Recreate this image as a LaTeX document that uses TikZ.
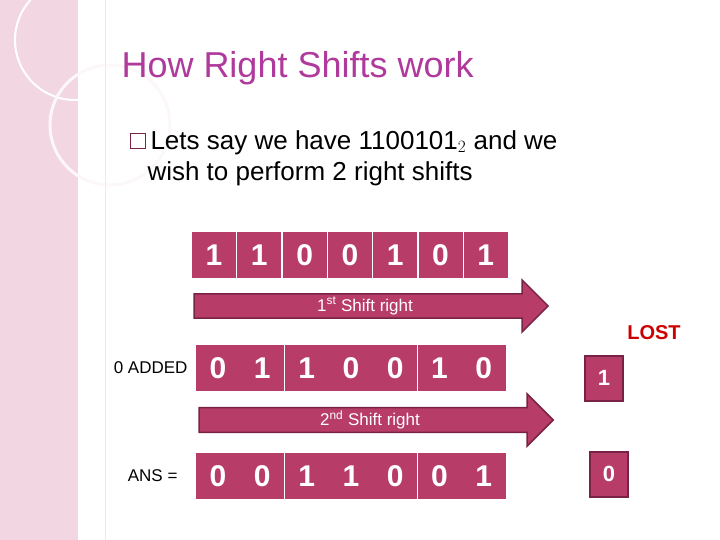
\documentclass[tikz,border=0pt]{standalone}
\usepackage{fontspec}
\setmainfont{Liberation Sans}
\usetikzlibrary{shapes.arrows}
\definecolor{bitc}{RGB}{184,60,104}
\definecolor{bitd}{RGB}{120,35,70}
\definecolor{ttl}{RGB}{176,58,156}
\definecolor{stripe}{RGB}{242,214,226}
\definecolor{lostred}{RGB}{204,0,0}
\tikzset{
 bit/.style={fill=bitc,minimum width=44pt,minimum height=46pt,inner sep=0pt,text=white,font=\fontsize{30}{30}\selectfont\bfseries},
 lostbit/.style={fill=bitc,draw=bitd,line width=2pt,minimum width=38pt,minimum height=45pt,inner sep=0pt,text=white,font=\fontsize{22}{22}\selectfont\bfseries},
 shiftarrow/.style={single arrow,fill=bitc,draw=bitd,line width=1.5pt,minimum height=354pt,minimum width=52pt,single arrow head extend=13pt,single arrow tip angle=90,inner sep=2pt,text=white,font=\fontsize{17}{17}\selectfont},
 side/.style={font=\fontsize{17}{17}\selectfont,anchor=east}
}
\begin{document}
\begin{tikzpicture}[x=1pt,y=-1pt]
\useasboundingbox (0,0) rectangle (720,540);
\fill[stripe] (0,0) rectangle (78,540);
\draw[white,line width=2pt] (75,40) circle (60);
\draw[white!80!stripe,line width=3pt] (110,125) circle (60);
\draw[stripe!70!black!20,line width=0.6pt] (105,0) -- (105,540);
\node[anchor=west,text=ttl,font=\fontsize{36}{36}\selectfont] (title) at (118,68) {How Right Shifts work};
\node[draw=bitd,line width=0.8pt,minimum size=15pt,inner sep=0pt] (bul) at (138,141) {};
\node[anchor=west,font=\fontsize{26}{31}\selectfont,align=left] (txt) at (144,158) {\hspace*{3pt}Lets say we have 1100101$_2$ and we\\ wish to perform 2 right shifts};
\foreach \b [count=\i] in {1,1,0,0,1,0,1}
  \node[bit] (a\i) at ({214+(\i-1)*45.3},255) {\b};
\node[shiftarrow] (s1) at (365,306) {1\textsuperscript{st} Shift right};
\node[anchor=center,text=lostred,font=\fontsize{20}{20}\selectfont\bfseries] (lost) at (654,333) {LOST};
\node[side] (added) at (191,368) {0 ADDED};
\foreach \b [count=\i] in {0,1,1,0,0,1,0}
  \node[bit] (b\i) at ({218+(\i-1)*44.3},368) {\b};
\node[lostbit] (l1) at (604,378) {1};
\node[shiftarrow] (s2) at (370,420) {2\textsuperscript{nd} Shift right};
\node[side] (ans) at (181,476) {ANS =};
\foreach \b [count=\i] in {0,0,1,1,0,0,1}
  \node[bit] (c\i) at ({218+(\i-1)*44.3},476) {\b};
\node[lostbit] (l2) at (609,474) {0};
\end{tikzpicture}
\end{document}
